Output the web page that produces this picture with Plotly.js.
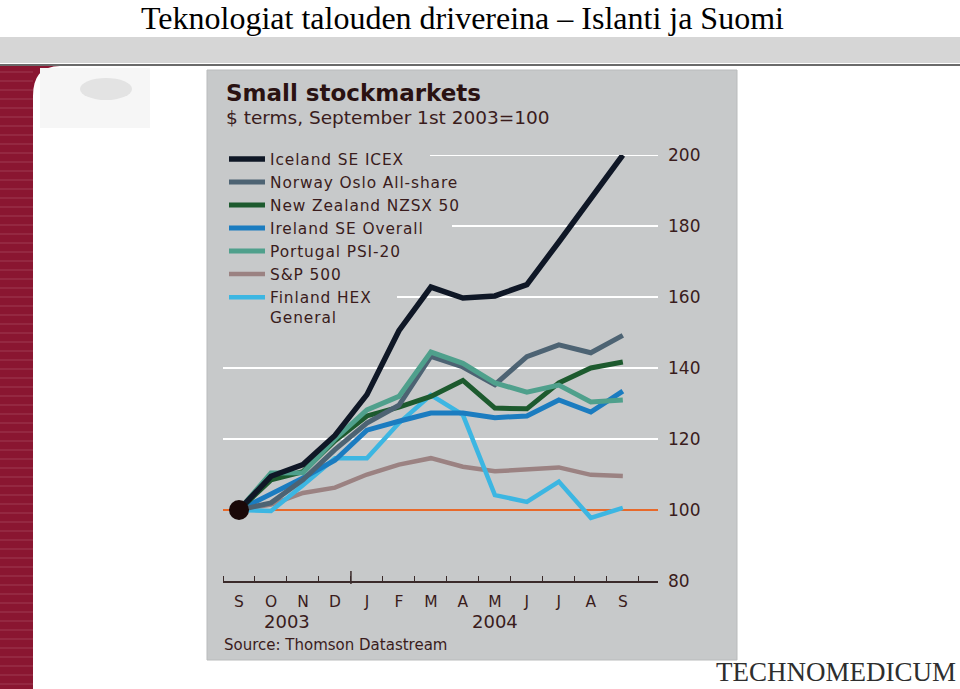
<!DOCTYPE html>
<html><head><meta charset="utf-8">
<script src="https://cdn.plot.ly/plotly-3.0.1.min.js"></script>
<style>html,body{margin:0;padding:0;background:#fff;} #chart{width:960px;height:689px;} .legendtext{letter-spacing:0.9px;}</style>
</head><body><div id="chart"></div>
<script>
// ---- data ----
const months = ['S','O','N','D','J','F','M','A','M','J','J','A','S'];
const years = ['2003','2004'];
const seriesNames = ['Iceland SE ICEX','Norway Oslo All-share','New Zealand NZSX 50','Ireland SE Overall','Portugal PSI-20','S&P 500','Finland HEX<br>General'];
const iceland  = [100, 109.5, 112.8, 121, 132.5, 150.5, 162.8, 159.7, 160.3, 163.5, 175.5, 187.5, 200];
const norway   = [100, 102, 108.5, 117, 124.5, 129.5, 143.3, 140.3, 135.3, 143.2, 146.5, 144.3, 149.2];
const newZealand = [100, 108.5, 110.8, 119.5, 126.5, 129, 132, 136.5, 128.7, 128.5, 135.8, 140, 141.7];
const ireland  = [100, 104.5, 109, 114, 122.5, 125, 127.3, 127.3, 126, 126.5, 131, 127.6, 133.5];
const portugal = [100, 110.4, 110.5, 120, 128.2, 132, 144.5, 141.3, 135.8, 133.2, 135.2, 130.4, 131];
const sp500    = [100, 101.5, 104.8, 106.3, 110, 112.8, 114.6, 112.2, 110.9, 111.3, 112, 109.9, 109.6];
const finland  = [100, 99.7, 107, 114.6, 114.6, 124.5, 132.4, 126.8, 104.2, 102.3, 108, 97.8, 100.6];
const yTicks = [80, 100, 120, 140, 160, 180, 200];
const baseValue = 100;

// ---- styles ----
const seriesColors = ['#0f1726','#4d6373','#1d5a2e','#1b7cc0','#4fa08c','#9b8282','#3cb6e2'];
const seriesWidths = [5.5, 5, 5, 5, 5, 4.5, 4.5];
const drawOrder = [5, 6, 3, 2, 1, 4, 0]; // bottom -> top
const textCol = '#3a1c1c';
const chartFont = 'DejaVu Sans, sans-serif';

// plot area in pixels
const L = 223, R = 658, T = 155, B = 581, W = 960, H = 689;
const px = x => (x - L) / (R - L);
const py = y => (B - y) / (B - T);

const xIdx = months.map((m, i) => i);
const data = [iceland, norway, newZealand, ireland, portugal, sp500, finland];

const traces = drawOrder.map(k => ({
  type: 'scatter', mode: 'lines', x: xIdx, y: data[k], name: seriesNames[k],
  legendrank: k + 1,
  line: {color: seriesColors[k], width: seriesWidths[k]},
  cliponaxis: false, hoverinfo: 'skip'
}));
traces.push({type: 'scatter', mode: 'markers', x: [xIdx[0]], y: [baseValue], showlegend: false,
  marker: {size: 20, color: '#1a0808'}, cliponaxis: false, hoverinfo: 'skip'});

// gridline start positions (px) for each gridline value
const gridStart = {120: 223, 140: 223, 160: 397, 180: 452, 200: 430};
const shapes = [];
// slide decorations
shapes.push({type: 'rect', xref: 'paper', yref: 'paper', x0: px(0), x1: px(W), y0: py(63), y1: py(37), fillcolor: '#d6d6d6', line: {width: 0}, layer: 'below'});
shapes.push({type: 'line', xref: 'paper', yref: 'paper', x0: px(0), x1: px(W), y0: py(65), y1: py(65), line: {color: '#6a6a6a', width: 2}, layer: 'below'});
const redPath = `M${px(0)},${py(66)} L${px(60)},${py(66)} Q${px(33)},${py(66)} ${px(33)},${py(96)} L${px(33)},${py(H)} L${px(0)},${py(H)} Z`;
shapes.push({type: 'path', xref: 'paper', yref: 'paper', path: redPath, fillcolor: '#8a1631', line: {width: 0}, layer: 'below'});
for (let yy = 72; yy < H; yy += 9) {
  shapes.push({type: 'line', xref: 'paper', yref: 'paper', x0: px(0), x1: px(33), y0: py(yy), y1: py(yy), line: {color: '#9e3a52', width: 1}, layer: 'below'});
}
shapes.push({type: 'rect', xref: 'paper', yref: 'paper', x0: px(40), x1: px(150), y0: py(128), y1: py(68), fillcolor: '#f6f6f6', line: {width: 0}, layer: 'below'});
shapes.push({type: 'circle', xref: 'paper', yref: 'paper', x0: px(80), x1: px(132), y0: py(100), y1: py(78), fillcolor: '#e3e3e3', line: {width: 0}, layer: 'below'});
// chart panel
shapes.push({type: 'rect', xref: 'paper', yref: 'paper', x0: px(207), x1: px(737), y0: py(660), y1: py(70), fillcolor: '#c7c9ca', line: {color: '#b9bbbc', width: 1}, layer: 'below'});
// gridlines
yTicks.filter(v => gridStart[v] !== undefined).forEach(v => {
  shapes.push({type: 'line', xref: 'paper', yref: 'y', x0: px(gridStart[v]), x1: 1, y0: v, y1: v, line: {color: '#ffffff', width: 2}, layer: 'below'});
});
shapes.push({type: 'line', xref: 'paper', yref: 'y', x0: 0, x1: 1, y0: baseValue, y1: baseValue, line: {color: '#e8692a', width: 2}, layer: 'below'});
// year-boundary tick
const yearBoundary = months.indexOf('J') - 0.5;
shapes.push({type: 'line', xref: 'x', yref: 'paper', x0: yearBoundary, x1: yearBoundary, y0: py(584), y1: py(571), line: {color: '#3a2a2a', width: 1.5}});

const annotations = [
  {text: 'Teknologiat talouden drivereina – Islanti ja Suomi', xref: 'paper', yref: 'paper', x: px(462), y: py(18), xanchor: 'center', yanchor: 'middle', showarrow: false,
   borderpad: 0, font: {family: 'Liberation Serif, Times New Roman, serif', size: 32, color: '#000'}},
  {text: 'Small stockmarkets', xref: 'paper', yref: 'paper', x: px(224), y: py(93), xanchor: 'left', yanchor: 'middle', showarrow: false,
   font: {family: chartFont, size: 23, color: '#2a1212', weight: 'bold'}},
  {text: '$ terms, September 1st 2003=100', xref: 'paper', yref: 'paper', x: px(224), y: py(118), xanchor: 'left', yanchor: 'middle', showarrow: false,
   font: {family: chartFont, size: 18.5, color: textCol}},
  {text: 'Source: Thomson Datastream', xref: 'paper', yref: 'paper', x: px(222), y: py(645), xanchor: 'left', yanchor: 'middle', showarrow: false,
   font: {family: chartFont, size: 15, color: textCol}},
  {text: years[0], xref: 'x', yref: 'paper', x: (0 + months.indexOf('J') - 1) / 2, y: py(621), xanchor: 'center', yanchor: 'middle', showarrow: false,
   font: {family: chartFont, size: 18, color: textCol}},
  {text: years[1], xref: 'x', yref: 'paper', x: (months.indexOf('J') + months.length - 1) / 2, y: py(621), xanchor: 'center', yanchor: 'middle', showarrow: false,
   font: {family: chartFont, size: 18, color: textCol}},
  {text: 'TECHNOMEDICUM', xref: 'paper', yref: 'paper', x: px(836), y: py(672), xanchor: 'center', yanchor: 'middle', showarrow: false,
   font: {family: 'Liberation Serif, serif', size: 27, color: '#2e2e2e'}}
];

const boundaries = xIdx.map(i => i - 0.5).concat([xIdx.length - 0.5]);

const layout = {
  width: W, height: H,
  margin: {l: L, r: W - R, t: T, b: H - B, pad: 0},
  paper_bgcolor: '#ffffff', plot_bgcolor: 'rgba(0,0,0,0)',
  showlegend: true,
  legend: {x: px(224), y: py(142.5), xanchor: 'left', yanchor: 'top', bgcolor: 'rgba(0,0,0,0)', borderwidth: 0,
    font: {family: chartFont, size: 15.4, color: textCol}, itemwidth: 36, valign: 'top', tracegroupgap: 0, traceorder: 'normal'},
  xaxis: {range: [-0.5, 13.1], tickmode: 'array', tickvals: xIdx, ticktext: months, ticks: '', showgrid: false, zeroline: false,
    showline: true, linecolor: '#3a2a2a', linewidth: 1.5, ticklabelstandoff: 6,
    tickfont: {family: chartFont, size: 15.5, color: textCol},
    minor: {tickmode: 'array', tickvals: boundaries, ticks: 'inside', ticklen: 5, tickwidth: 1, tickcolor: '#3a2a2a', showgrid: false}},
  yaxis: {range: [80, 200], side: 'right', tickmode: 'array', tickvals: yTicks, ticks: '', showgrid: false, zeroline: false, showline: false,
    ticklabelstandoff: 9, tickfont: {family: chartFont, size: 17, color: textCol}},
  shapes: shapes, annotations: annotations
};

Plotly.newPlot('chart', traces, layout, {staticPlot: true, displayModeBar: false});
</script></body></html>
